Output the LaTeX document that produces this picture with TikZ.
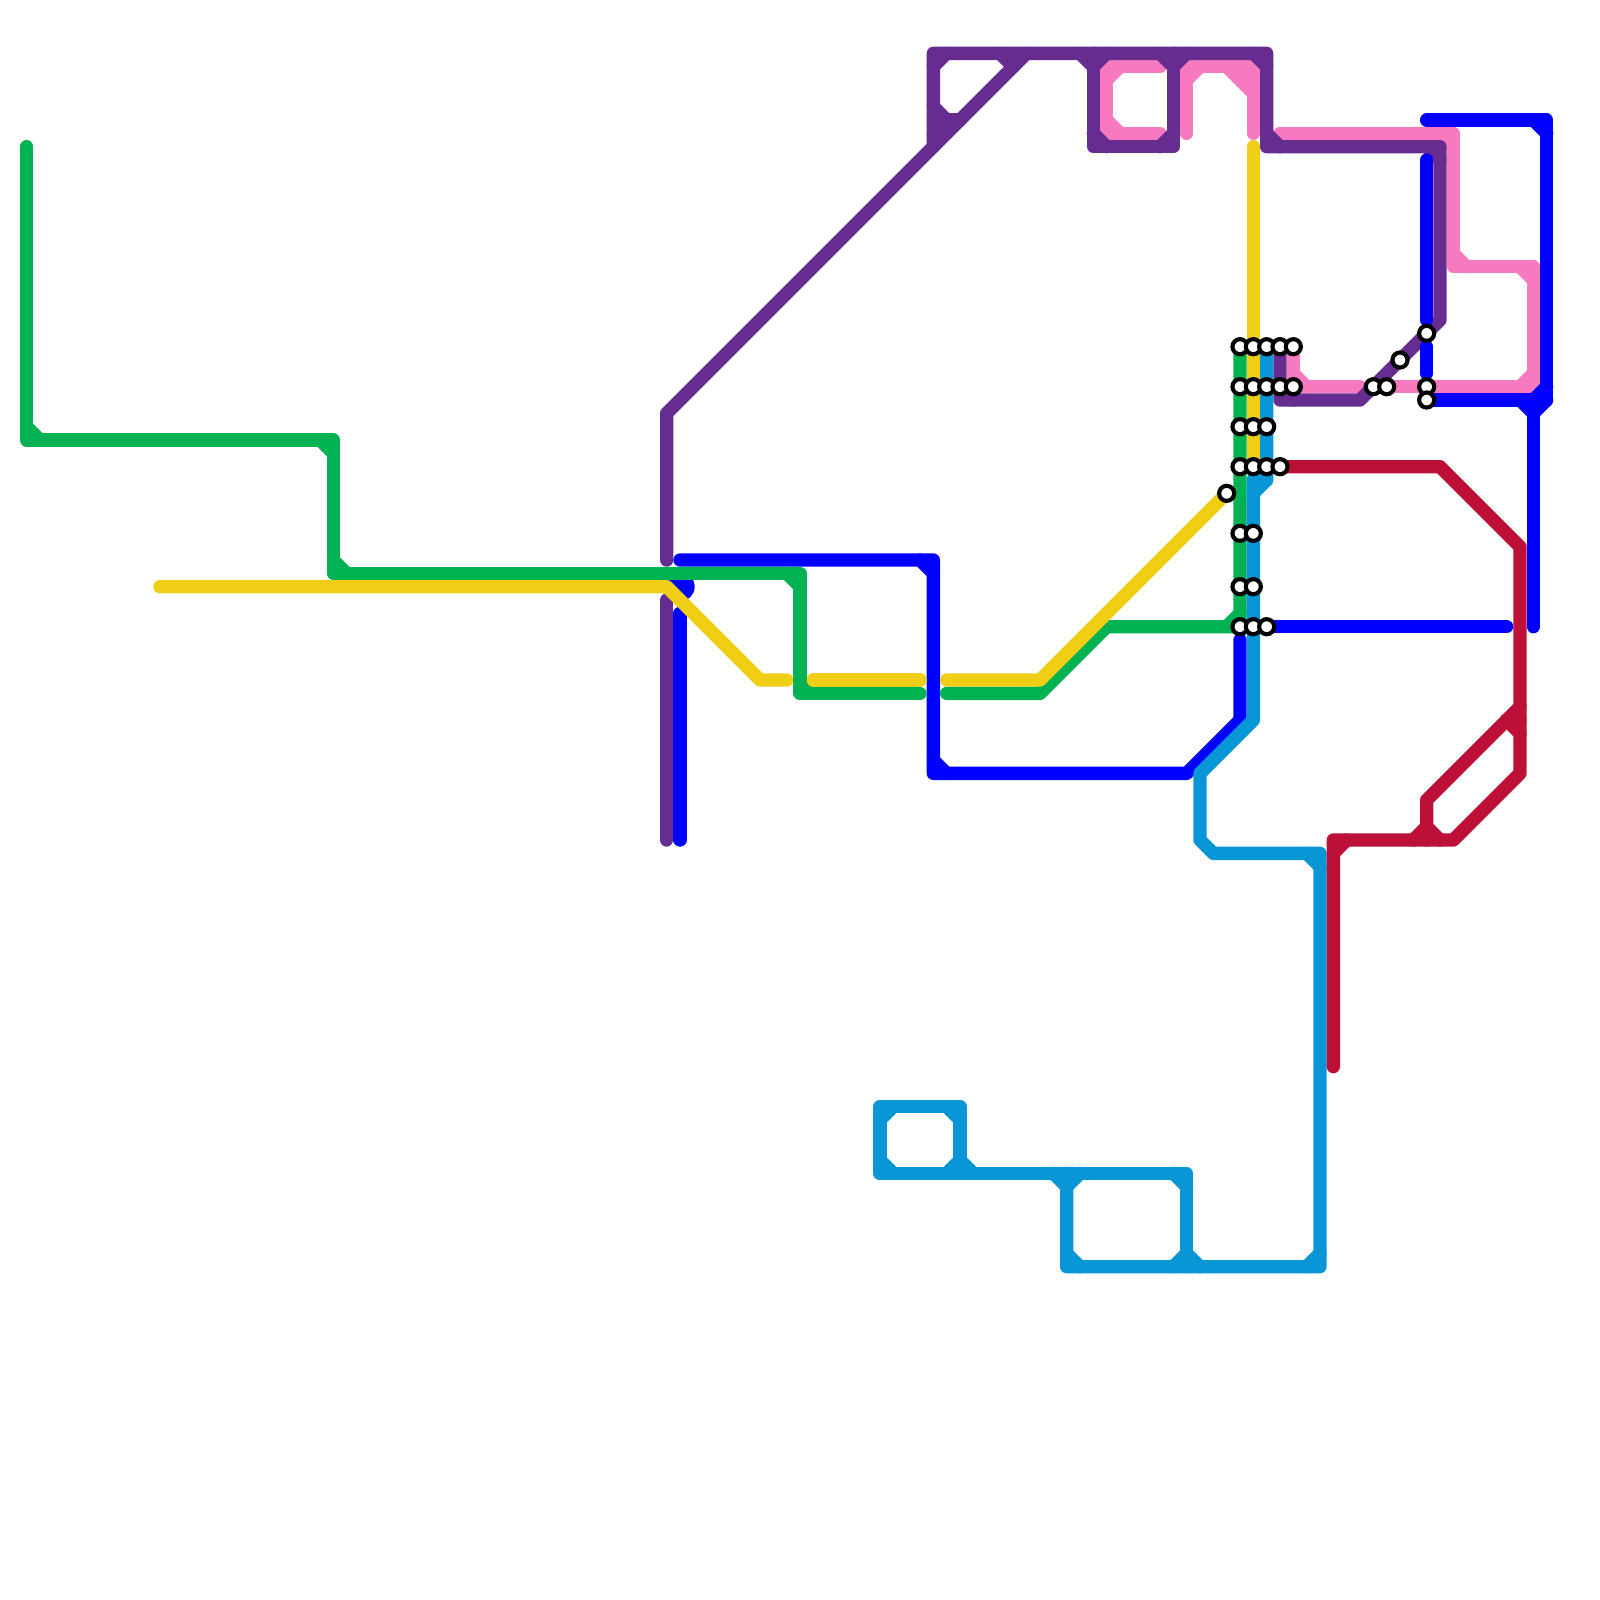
\documentclass[tikz,border=0pt]{standalone}

\definecolor{metrogreen}{HTML}{00B251}
\definecolor{metroyellow}{HTML}{F0CE15}
\definecolor{metroblue}{HTML}{0000FF}
\definecolor{metropurple}{HTML}{662C90}
\definecolor{metropink}{HTML}{F77AC0}
\definecolor{metrocyan}{HTML}{0896D7}
\definecolor{metrored}{HTML}{BD1038}

\tikzstyle{metro} = [line width=1mm, line cap=round, line join=round]
\tikzstyle{greenline} = [metro, draw=metrogreen]
\tikzstyle{yellowline} = [metro, draw=metroyellow]
\tikzstyle{blueline} = [metro, draw=metroblue]
\tikzstyle{purpleline} = [metro, draw=metropurple]
\tikzstyle{pinkline} = [metro, draw=metropink]
\tikzstyle{cyanline} = [metro, draw=metrocyan]
\tikzstyle{redline} = [metro, draw=metrored]
\tikzstyle{station} = [circle, draw=black, fill=white, line width=0.31mm, minimum size=1.13mm, inner sep=0pt]
\tikzstyle{blobstop} = [circle, draw=metroblue, fill=metroblue, line width=0.1mm, minimum size=2.1mm, inner sep=0pt]

% inner corner cuts: corner / horizontal leg / vertical leg
\newcommand{\chamfers}[2]{\foreach \p/\a/\b in {#2} \draw [#1, shift={(\p)}] (\a,0) -- (0,\b);}

\begin{document}
\begin{tikzpicture}[x=1mm, y=-1mm]
\useasboundingbox (0,0) rectangle (120,120);

% Line points
\foreach \n/\x/\y in {g1/2/11, g2/2/33, g3/25/33, g4/25/43, g5/60/43, g6/60/52, g7/69/52, g8/71/52, g9/78/52, g10/83/47, g11/93/47, g12/93/26} \coordinate (\n) at (\x,\y);
\foreach \n/\x/\y in {y1/12/44, y2/50/44, y3/57/51, y4/59/51, y5/61/51, y6/69/51, y7/71/51, y8/78/51, y9/92/37, y10/94/11, y11/94/35} \coordinate (\n) at (\x,\y);
\foreach \n/\x/\y in {b1/51/42, b2/70/42, b3/70/58, b4/89/58, b5/93/54, b6/93/48, b7/51/46, b8/51/63, b10/95/47, b11/113/47, b12/107/9, b13/116/9, b14/116/30, b15/107/30, b16/115/30, b17/115/47, b18/107/12, b19/107/24, b20/107/26, b21/107/28} \coordinate (\n) at (\x,\y);
\foreach \n/\x/\y in {p1/50/42, p2/50/31, p3/77/4, p4/70/11, p5/70/4, p6/95/4, p7/95/11, p8/108/11, p9/108/24, p10/102/30, p11/96/30, p12/96/26, p13/70/9, p14/72/9, p15/82/4, p16/82/11, p17/88/11, p18/88/4, p19/76/4, p20/50/45, p21/50/63, p22/70/10, p23/71/10} \coordinate (\n) at (\x,\y);
\foreach \n/\x/\y in {k1/87/5, k2/83/5, k3/83/10, k4/87/10, k5/89/10, k6/89/5, k7/94/5, k8/94/10, k9/96/10, k10/109/10, k11/109/20, k12/115/20, k13/115/29, k14/104/29, k15/97/26, k16/97/29, k17/102/29, k18/92/5, k19/94/7} \coordinate (\n) at (\x,\y);
\foreach \n/\x/\y in {c1/95/26, c2/95/36, c3/94/36, c4/94/54, c5/90/58, c6/90/63, c7/91/64, c8/99/64, c9/99/95, c10/80/95, c11/80/88, c12/66/88, c13/89/88, c14/89/95, c15/66/83, c16/72/83, c17/72/88} \coordinate (\n) at (\x,\y);
\foreach \n/\x/\y in {r1/96/35, r2/108/35, r3/114/41, r4/114/58, r5/109/63, r6/100/63, r7/100/80, r8/107/63, r9/107/60, r10/114/53, r11/113/54, r12/114/54} \coordinate (\n) at (\x,\y);

% Pink
\draw [pinkline] (k1) -- (k2) -- (k3) -- (k4);
\draw [pinkline] (k5) -- (k6) -- (k7) -- (k8);
\draw [pinkline, fill=metropink] (k18) -- (k7) -- (k19) -- cycle;
\draw [pinkline] (k9) -- (k10) -- (k11) -- (k12) -- (k13) -- (k14);
\draw [pinkline] (k15) -- (k16) -- (k17);
\chamfers{pinkline}{k2/1/1, k3/1/-1, k6/1/1, k10/-1/1, k11/1/-1, k12/-1/1, k13/-1/-1, k16/1/-1}

% Purple
\draw [purpleline] (p1) -- (p2) -- (p3);
\draw [purpleline] (p4) -- (p5) -- (p6) -- (p7) -- (p8) -- (p9) -- (p10) -- (p11) -- (p12);
\draw [purpleline] (p13) -- (p14);
\draw [purpleline] (p22) -- (p23);
\draw [purpleline] (p15) -- (p16) -- (p17) -- (p18);
\draw [purpleline] (p20) -- (p21);
\chamfers{purpleline}{p5/1/1, p13/1/-1, p19/-1/1, p15/-1/1, p15/1/1, p16/1/-1, p17/-1/-1, p18/-1/1, p18/1/1, p6/-1/1, p7/1/-1, p8/-1/1, p11/1/-1}

% Blue
\node (b9) [blobstop] at (51,44) {};
\draw [blueline] (b1) -- (b2) -- (b3) -- (b4) -- (b5) -- (b6);
\draw [blueline] (b7) -- (b8);
\draw [blueline] (b10) -- (b11);
\draw [blueline] (b12) -- (b13) -- (b14) -- (b15);
\draw [blueline] (b16) -- (b17);
\draw [blueline] (b18) -- (b19);
\draw [blueline] (b20) -- (b21);
\chamfers{blueline}{b2/-1/1, b3/1/-1, b13/-1/1, b14/-1/-1, b16/-1/1, b16/1/1}

% Green
\draw [greenline] (g1) -- (g2) -- (g3) -- (g4) -- (g5) -- (g6) -- (g7);
\draw [greenline] (g8) -- (g9) -- (g10) -- (g11) -- (g12);
\chamfers{greenline}{g2/1/-1, g3/-1/1, g4/1/-1, g5/-1/1, g6/1/-1, g11/-1/-1}

% Cyan
\draw [cyanline] (c1) -- (c2) -- (c3) -- (c4) -- (c5) -- (c6) -- (c7) -- (c8) -- (c9) -- (c10) -- (c11);
\draw [cyanline] (c12) -- (c15) -- (c16) -- (c17);
\draw [cyanline] (c12) -- (c13) -- (c14);
\chamfers{cyanline}{c2/-1/-1, c3/1/1, c8/-1/1, c9/-1/-1, c10/1/-1, c11/-1/1, c11/1/1, c13/-1/1, c14/-1/-1, c14/1/-1, c15/1/1, c16/-1/1, c12/1/-1, c17/-1/-1, c17/1/-1}

% Red
\draw [redline] (r1) -- (r2) -- (r3) -- (r4) -- (r5) -- (r6) -- (r7);
\draw [redline] (r8) -- (r9) -- (r10);
\draw [redline] (r11) -- (r12);
\chamfers{redline}{r6/1/1, r8/-1/-1, r8/1/-1, r12/-1/1}

% Yellow
\draw [yellowline] (y1) -- (y2) -- (y3) -- (y4);
\draw [yellowline] (y5) -- (y6);
\draw [yellowline] (y7) -- (y8) -- (y9);
\draw [yellowline] (y10) -- (y11);

% Stations
\foreach \x/\y in {93/26, 94/26, 95/26, 96/26, 97/26, 93/29, 94/29, 95/29, 96/29, 97/29, 93/32, 94/32, 95/32, 93/35, 94/35, 95/35, 96/35, 92/37, 93/40, 94/40, 93/44, 94/44, 93/47, 94/47, 95/47, 103/29, 104/29, 105/27, 107/25, 107/29, 107/30}
  \node (st\x x\y) [station] at (\x,\y) {};

\end{tikzpicture}
\end{document}
